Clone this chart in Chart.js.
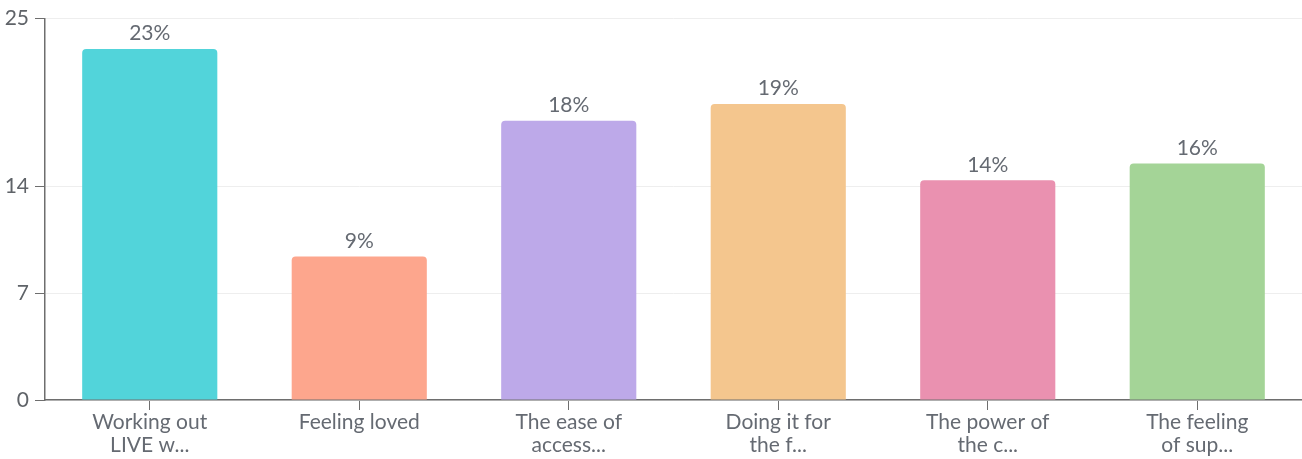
<!DOCTYPE html>
<html>
<head>
<meta charset="utf-8">
<script src="https://cdn.jsdelivr.net/npm/chart.js@4.4.1/dist/chart.umd.min.js"></script>
<style>
  html, body { margin: 0; padding: 0; background: #fff; }
  #wrap { width: 1302px; height: 459px; }
</style>
</head>
<body>
<div id="wrap"><canvas id="pollChart"></canvas></div>
<script>
// answers, share of votes (%) and bar colours
const categories = [
    ["Working out", "LIVE w..."],
    ["Feeling loved"],
    ["The ease of", "access..."],
    ["Doing it for", "the f..."],
    ["The power of", "the c..."],
    ["The feeling", "of sup..."]
];
const shares = [23.0, 9.4, 18.3, 19.4, 14.4, 15.5];
const barColors = ['#52d4da', '#fda68d', '#bda9e9', '#f4c68e', '#ea91b0', '#a4d497'];
const yTicks = [0, 7, 14, 25];

const FONT = 'Lato, "Source Sans Pro", sans-serif';

// prints the rounded percentage above each bar
const valueLabels = {
    id: 'valueLabels',
    afterDatasetsDraw(chart) {
        const ctx = chart.ctx;
        const meta = chart.getDatasetMeta(0);
        ctx.save();
        ctx.font = '21px ' + FONT;
        ctx.fillStyle = '#656a72';
        ctx.textAlign = 'center';
        ctx.textBaseline = 'bottom';
        meta.data.forEach((bar, i) => {
            ctx.fillText(Math.round(shares[i]) + '%', bar.x, bar.y - 5);
        });
        ctx.restore();
    }
};

document.addEventListener('DOMContentLoaded', () => {
    const ctx = document.getElementById('pollChart').getContext('2d');
    new Chart(ctx, {
        type: 'bar',
        data: {
            labels: categories,
            datasets: [{
                data: shares,
                backgroundColor: barColors,
                borderRadius: 4,
                borderSkipped: 'start',
                categoryPercentage: 1,
                barPercentage: 0.645
            }]
        },
        options: {
            responsive: true,
            maintainAspectRatio: false,
            animation: false,
            layout: { padding: { top: 17, right: 0, left: 0, bottom: 0 } },
            plugins: {
                legend: { display: false },
                tooltip: { enabled: false }
            },
            scales: {
                x: {
                    grid: {
                        offset: false,
                        drawOnChartArea: false,
                        tickLength: 10,
                        tickColor: '#6e6e6e'
                    },
                    border: { color: '#6e6e6e', width: 1.5 },
                    ticks: {
                        color: '#656a72',
                        font: { family: FONT, size: 21, lineHeight: 1.1 },
                        padding: 1,
                        maxRotation: 0,
                        autoSkip: false
                    },
                    afterFit(scale) { scale.height = 59; }
                },
                y: {
                    min: 0,
                    max: 25,
                    afterBuildTicks(scale) {
                        scale.ticks = yTicks.map(v => ({ value: v }));
                    },
                    grid: {
                        color: '#eeeeee',
                        tickLength: 10,
                        tickColor: '#6e6e6e'
                    },
                    border: { color: '#6e6e6e', width: 1.5 },
                    ticks: {
                        color: '#5f6368',
                        font: { family: FONT, size: 21 },
                        padding: 6
                    },
                    afterFit(scale) { scale.width = 45; }
                }
            }
        },
        plugins: [valueLabels]
    });
});
</script>
</body>
</html>
